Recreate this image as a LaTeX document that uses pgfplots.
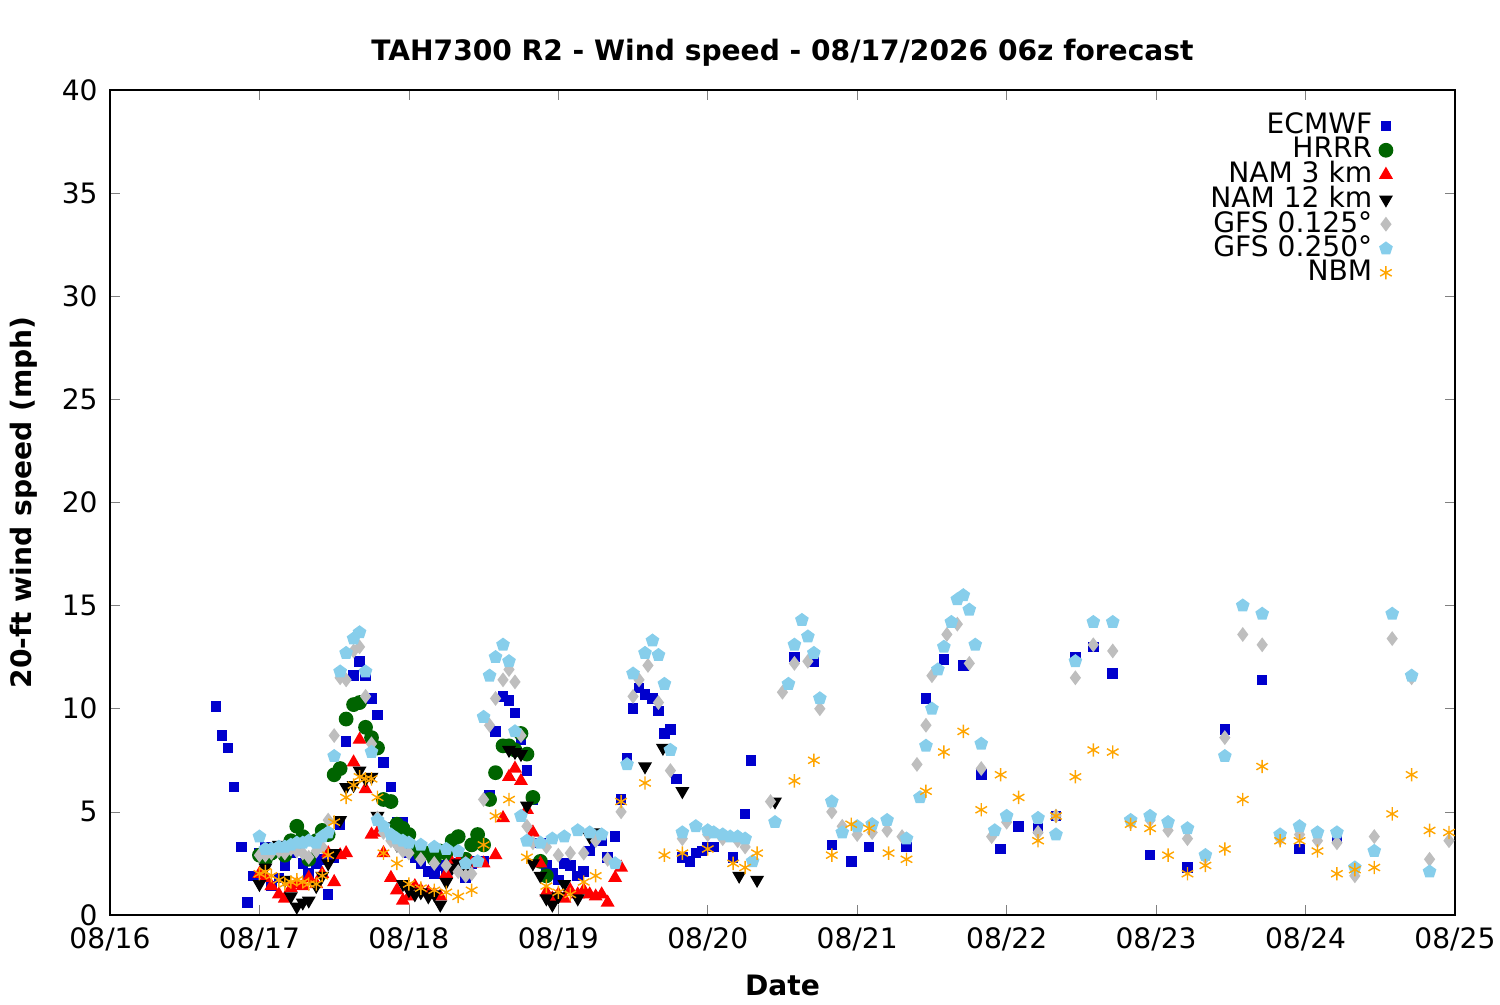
\documentclass[border=0pt]{standalone}
\usepackage{pgfplots}
\pgfplotsset{compat=1.18}
\usepackage{fontspec}
\setmainfont{DejaVu Sans}
\usetikzlibrary{plotmarks}
\definecolor{ec}{RGB}{0,0,205}
\definecolor{hr}{RGB}{0,100,0}
\definecolor{gf1}{RGB}{190,190,190}
\definecolor{gf2}{RGB}{135,206,235}
\definecolor{nb}{RGB}{255,165,0}
\pgfplotsset{lm/.style={only marks,legend image code/.code={\draw[mark repeat=2,mark phase=2,##1] plot coordinates {(0cm,0cm)(0.5cm,0cm)(0.6cm,0cm)};}}}
\begin{document}
\begin{tikzpicture}
\useasboundingbox (-1.1,-0.9) rectangle (13.9,9.15);
\begin{axis}[at={(0,0)},anchor=south west,scale only axis,width=13.45cm,height=8.25cm,
 xmin=0,xmax=9,ymin=0,ymax=40,
 xtick={0,...,9},xticklabels={08/16,08/17,08/18,08/19,08/20,08/21,08/22,08/23,08/24,08/25},
 ytick={0,5,...,40},
 tick align=inside, tick pos=both, major tick length=0.1cm,
 /pgf/number format/assume math mode=true,
 ticklabel style={font=\fontsize{8}{9}\selectfont},
 xlabel={\textbf{Date}},ylabel={\textbf{20-ft wind speed (mph)}},
 label style={font=\fontsize{8}{9}\selectfont},
 title={\textbf{TAH7300 R2 - Wind speed - 08/17/2026 06z forecast}},
 title style={font=\fontsize{8}{9}\selectfont,yshift=-0.1cm},
 legend style={at={(0.962,0.99)},anchor=north east,draw=none,fill=none,font=\fontsize{8}{9}\selectfont,row sep=-4.5pt},
 legend cell align=right, legend plot pos=right]
\addplot[lm,mark=square*,mark size=1.3pt,color=ec] coordinates {
(0.71,10.1)(0.75,8.7)(0.79,8.1)(0.83,6.2)(0.88,3.3)(0.92,0.6)(0.96,1.9)(1.0,3.0)(1.04,3.3)(1.08,1.4)(1.13,1.8)(1.17,2.4)(1.21,3.0)(1.25,3.3)(1.29,2.5)(1.33,2.0)(1.38,2.5)(1.42,2.7)(1.46,1.0)(1.5,2.8)(1.54,4.4)(1.58,8.4)(1.63,11.6)(1.67,12.3)(1.71,11.6)(1.75,10.5)(1.79,9.7)(1.83,7.4)(1.88,6.2)(1.92,4.5)(1.96,4.5)(2.0,3.0)(2.04,2.8)(2.08,2.5)(2.13,2.1)(2.17,2.0)(2.21,2.4)(2.25,2.2)(2.29,2.5)(2.33,2.3)(2.38,1.8)(2.42,2.5)(2.46,2.6)(2.5,2.6)(2.54,5.8)(2.58,8.9)(2.63,10.6)(2.67,10.4)(2.71,9.8)(2.75,8.5)(2.79,7.0)(2.83,5.6)(2.88,3.5)(2.92,2.4)(2.96,2.0)(3.0,1.7)(3.04,2.5)(3.08,2.4)(3.13,1.9)(3.17,2.1)(3.21,3.1)(3.25,3.6)(3.29,3.6)(3.33,2.8)(3.38,3.8)(3.42,5.6)(3.46,7.6)(3.5,10.0)(3.54,11.0)(3.58,10.7)(3.63,10.5)(3.67,9.9)(3.71,8.8)(3.75,9.0)(3.79,6.6)(3.83,2.8)(3.88,2.6)(3.92,3.0)(3.96,3.1)(4.0,3.3)(4.04,3.3)(4.17,2.8)(4.25,4.9)(4.29,7.5)(4.58,12.5)(4.71,12.3)(4.83,3.4)(4.96,2.6)(5.08,3.3)(5.33,3.3)(5.46,10.5)(5.58,12.4)(5.71,12.1)(5.83,6.8)(5.96,3.2)(6.08,4.3)(6.21,4.2)(6.33,4.8)(6.46,12.5)(6.58,13.0)(6.71,11.7)(6.96,2.9)(7.21,2.3)(7.46,9.0)(7.71,11.4)(7.96,3.2)(8.21,3.7)};
\addlegendentry{ECMWF}
\addplot[lm,mark=*,mark size=1.9pt,color=hr] coordinates {
(1.0,2.9)(1.04,2.7)(1.08,3.0)(1.13,3.2)(1.17,2.9)(1.21,3.6)(1.25,4.3)(1.29,3.8)(1.33,2.7)(1.38,3.6)(1.42,4.1)(1.46,3.9)(1.5,6.8)(1.54,7.1)(1.58,9.5)(1.63,10.2)(1.67,10.3)(1.71,9.1)(1.75,8.6)(1.79,8.1)(1.83,5.6)(1.88,5.5)(1.92,4.4)(1.96,4.2)(2.0,3.9)(2.04,3.2)(2.08,2.9)(2.13,3.0)(2.17,2.7)(2.21,3.1)(2.25,3.0)(2.29,3.6)(2.33,3.8)(2.38,2.7)(2.42,3.4)(2.46,3.9)(2.5,3.4)(2.54,5.6)(2.58,6.9)(2.63,8.2)(2.67,8.2)(2.71,8.0)(2.75,8.8)(2.79,7.8)(2.83,5.7)(2.88,2.6)(2.92,1.9)};
\addlegendentry{HRRR}
\addplot[lm,mark=triangle*,mark size=1.9pt,color=red] coordinates {
(1.0,2.0)(1.04,1.8)(1.08,1.4)(1.13,1.0)(1.17,0.8)(1.21,1.3)(1.25,1.5)(1.29,1.4)(1.33,1.8)(1.38,1.5)(1.42,2.0)(1.46,3.0)(1.5,1.6)(1.54,2.9)(1.58,3.0)(1.63,7.4)(1.67,8.5)(1.71,6.1)(1.75,3.9)(1.79,4.0)(1.83,3.0)(1.88,1.8)(1.92,1.2)(1.96,0.7)(2.0,0.9)(2.04,1.4)(2.08,1.2)(2.13,1.1)(2.17,1.0)(2.21,0.9)(2.25,2.0)(2.29,2.5)(2.33,2.6)(2.38,2.5)(2.42,2.5)(2.5,2.5)(2.58,2.9)(2.63,4.7)(2.67,6.7)(2.71,7.1)(2.75,6.5)(2.79,5.1)(2.83,4.0)(2.88,2.5)(2.92,1.1)(2.96,0.8)(3.0,1.0)(3.04,0.8)(3.08,1.2)(3.13,1.0)(3.17,1.2)(3.21,1.0)(3.25,0.9)(3.29,1.0)(3.33,0.6)(3.38,1.8)(3.42,2.3)};
\addlegendentry{NAM 3 km}
\addplot[lm,mark=triangle*,mark options={rotate=180},mark size=1.9pt,color=black] coordinates {
(1.0,1.5)(1.04,2.3)(1.08,3.3)(1.13,3.4)(1.17,1.7)(1.21,0.9)(1.25,0.4)(1.29,0.6)(1.33,0.7)(1.38,1.4)(1.42,1.9)(1.46,2.5)(1.5,3.0)(1.54,4.6)(1.58,6.2)(1.63,6.3)(1.67,7.0)(1.71,6.6)(1.75,6.7)(1.79,4.8)(1.83,4.3)(1.88,3.8)(1.92,3.4)(1.96,1.5)(2.0,1.2)(2.04,1.0)(2.08,1.1)(2.13,0.9)(2.17,1.0)(2.21,0.5)(2.25,1.6)(2.29,2.3)(2.33,2.5)(2.38,2.3)(2.67,8.0)(2.71,7.9)(2.75,7.8)(2.79,5.3)(2.83,2.5)(2.88,1.9)(2.92,0.8)(2.96,0.5)(3.0,0.9)(3.04,1.5)(3.13,0.8)(3.21,3.8)(3.25,4.0)(3.58,7.2)(3.70,8.1)(3.83,6.0)(4.21,1.9)(4.33,1.7)(4.45,5.5)};
\addlegendentry{NAM 12 km}
\addplot[lm,mark=diamond*,mark size=1.8pt,color=gf1] coordinates {
(1.0,2.9)(1.04,2.9)(1.08,3.0)(1.13,3.1)(1.17,3.0)(1.21,3.2)(1.25,3.1)(1.29,3.0)(1.33,2.8)(1.38,3.1)(1.42,3.3)(1.46,4.6)(1.5,8.7)(1.54,11.5)(1.58,11.4)(1.63,12.8)(1.67,13.0)(1.71,10.6)(1.75,8.3)(1.79,4.7)(1.83,4.0)(1.88,3.6)(1.92,3.4)(1.96,3.1)(2.0,3.0)(2.08,2.7)(2.17,2.5)(2.25,2.4)(2.33,2.1)(2.38,1.9)(2.42,2.0)(2.5,5.6)(2.54,9.2)(2.58,10.5)(2.63,11.4)(2.67,11.9)(2.71,11.3)(2.75,8.7)(2.79,4.3)(2.83,3.5)(2.92,3.3)(3.0,2.9)(3.08,3.0)(3.17,3.0)(3.25,3.6)(3.33,2.7)(3.42,5.0)(3.5,10.6)(3.54,11.4)(3.6,12.1)(3.67,10.3)(3.75,7.0)(3.83,3.7)(4.0,3.9)(4.1,3.7)(4.2,3.6)(4.25,3.3)(4.42,5.5)(4.5,10.8)(4.58,12.2)(4.67,12.3)(4.75,10.0)(4.83,5.0)(4.9,4.3)(5.0,3.9)(5.1,4.0)(5.2,4.1)(5.3,3.8)(5.4,7.3)(5.46,9.2)(5.5,11.6)(5.6,13.6)(5.67,14.1)(5.75,12.2)(5.83,7.1)(5.9,3.8)(6.0,4.5)(6.21,4.0)(6.33,4.8)(6.46,11.5)(6.58,13.1)(6.71,12.8)(6.83,4.5)(6.96,4.6)(7.08,4.1)(7.21,3.7)(7.33,2.8)(7.46,8.6)(7.58,13.6)(7.71,13.1)(7.83,3.7)(7.96,3.9)(8.08,3.6)(8.21,3.5)(8.33,1.9)(8.46,3.8)(8.58,13.4)(8.71,11.5)(8.83,2.7)(8.96,3.6)};
\addlegendentry{GFS 0.125°}
\addplot[lm,mark=pentagon*,mark size=1.8pt,color=gf2] coordinates {
(1.0,3.8)(1.04,3.2)(1.08,3.2)(1.13,3.3)(1.17,3.3)(1.21,3.4)(1.25,3.5)(1.29,3.5)(1.33,3.6)(1.38,3.5)(1.42,3.8)(1.46,4.0)(1.5,7.7)(1.54,11.8)(1.58,12.7)(1.63,13.4)(1.67,13.7)(1.71,11.8)(1.75,7.9)(1.79,4.6)(1.83,4.3)(1.88,3.9)(1.92,3.7)(1.96,3.6)(2.0,3.5)(2.08,3.4)(2.17,3.3)(2.25,3.2)(2.33,3.1)(2.38,2.5)(2.46,2.6)(2.5,9.6)(2.54,11.6)(2.58,12.5)(2.63,13.1)(2.67,12.3)(2.71,8.9)(2.75,4.8)(2.79,3.6)(2.88,3.5)(2.96,3.7)(3.04,3.8)(3.13,4.1)(3.21,4.0)(3.29,3.9)(3.38,2.5)(3.46,7.3)(3.5,11.7)(3.58,12.7)(3.63,13.3)(3.67,12.6)(3.71,11.2)(3.75,8.0)(3.83,4.0)(3.92,4.3)(4.0,4.1)(4.04,4.0)(4.1,3.9)(4.15,3.8)(4.2,3.8)(4.25,3.7)(4.3,2.6)(4.45,4.5)(4.54,11.2)(4.58,13.1)(4.63,14.3)(4.67,13.5)(4.71,12.7)(4.75,10.5)(4.83,5.5)(4.9,4.0)(5.0,4.3)(5.1,4.4)(5.2,4.6)(5.33,3.7)(5.42,5.7)(5.46,8.2)(5.5,10.0)(5.54,11.9)(5.58,13.0)(5.63,14.2)(5.67,15.3)(5.71,15.5)(5.75,14.8)(5.79,13.1)(5.83,8.3)(5.92,4.1)(6.0,4.8)(6.21,4.7)(6.33,3.9)(6.46,12.3)(6.58,14.2)(6.71,14.2)(6.83,4.6)(6.96,4.8)(7.08,4.5)(7.21,4.2)(7.33,2.9)(7.46,7.7)(7.58,15.0)(7.71,14.6)(7.83,3.9)(7.96,4.3)(8.08,4.0)(8.21,4.0)(8.33,2.3)(8.46,3.1)(8.58,14.6)(8.71,11.6)(8.83,2.1)};
\addlegendentry{GFS 0.250°}
\addplot[lm,mark=asterisk,mark size=1.9pt,color=nb] coordinates {
(1.0,2.0)(1.04,2.1)(1.08,1.9)(1.13,1.7)(1.17,1.5)(1.21,1.6)(1.25,1.7)(1.29,1.6)(1.33,1.5)(1.38,1.5)(1.42,1.9)(1.46,2.9)(1.5,4.5)(1.58,5.7)(1.63,6.3)(1.67,6.7)(1.71,6.6)(1.75,6.6)(1.79,5.7)(1.83,3.0)(1.92,2.5)(2.0,1.5)(2.08,1.3)(2.17,1.2)(2.25,1.1)(2.33,0.9)(2.42,1.2)(2.5,3.4)(2.58,4.8)(2.67,5.6)(2.79,2.8)(2.92,1.4)(3.0,1.1)(3.08,1.0)(3.17,1.6)(3.25,1.9)(3.42,5.5)(3.58,6.4)(3.71,2.9)(3.83,3.0)(4.0,3.2)(4.17,2.5)(4.25,2.3)(4.33,3.0)(4.58,6.5)(4.71,7.5)(4.83,2.9)(4.96,4.4)(5.08,4.2)(5.21,3.0)(5.33,2.7)(5.46,6.0)(5.58,7.9)(5.71,8.9)(5.83,5.1)(5.96,6.8)(6.08,5.7)(6.21,3.6)(6.33,4.8)(6.46,6.7)(6.58,8.0)(6.71,7.9)(6.83,4.4)(6.96,4.2)(7.08,2.9)(7.21,2.0)(7.33,2.4)(7.46,3.2)(7.58,5.6)(7.71,7.2)(7.83,3.6)(7.96,3.6)(8.08,3.1)(8.21,2.0)(8.33,2.2)(8.46,2.3)(8.58,4.9)(8.71,6.8)(8.83,4.1)(8.96,4.0)};
\addlegendentry{NBM}
\end{axis}
\end{tikzpicture}
\end{document}
